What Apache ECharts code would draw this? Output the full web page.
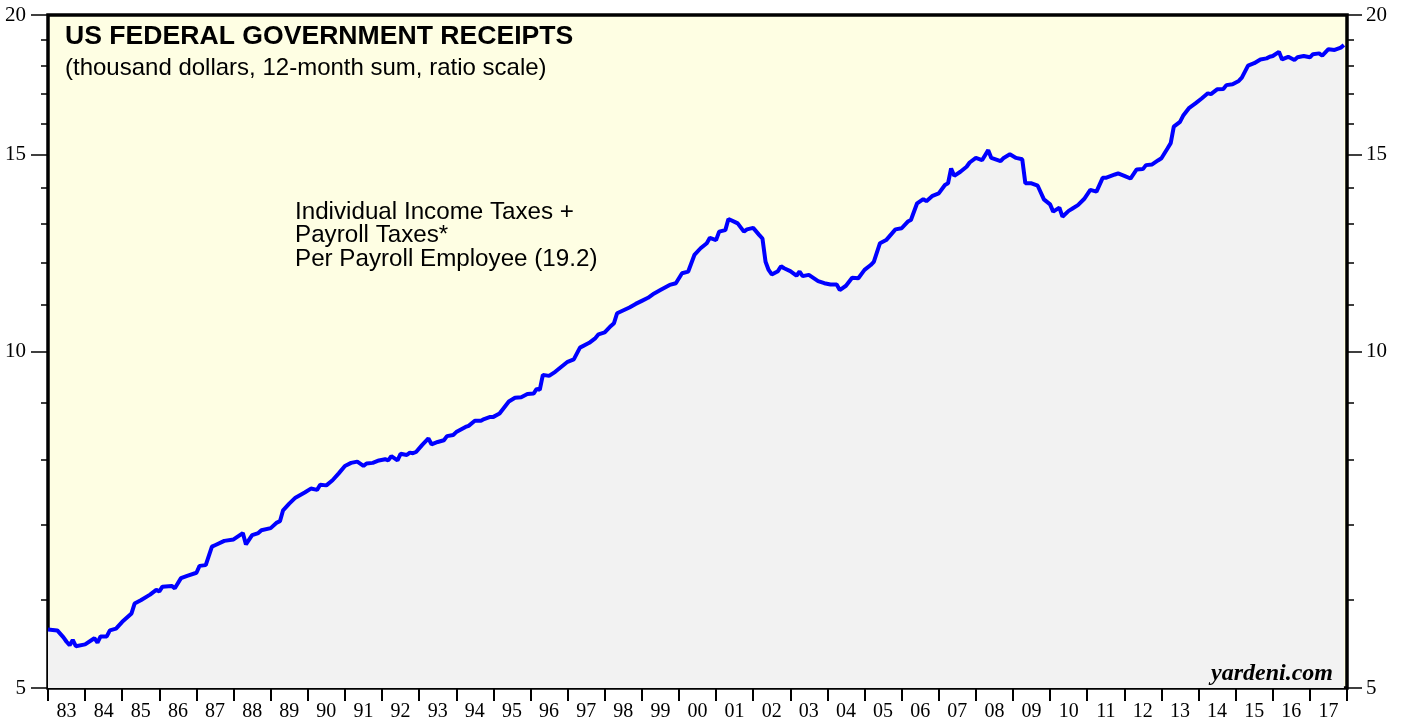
<!DOCTYPE html>
<html>
<head>
<meta charset="utf-8">
<title>US Federal Government Receipts</title>
<script src="https://cdn.jsdelivr.net/npm/echarts@6.0.0/dist/echarts.min.js"></script>
<style>
  html, body { margin: 0; padding: 0; background: #fff; }
  #chart { width: 1405px; height: 717px; }
</style>
</head>
<body>
<div id="chart"></div>
<script>
// months (irregular spacing, wherever the line bends)
const dates = [
  '1983-01', '1983-04', '1983-06', '1983-07', '1983-08', '1983-09', '1983-10', '1984-01', '1984-04', '1984-05',
  '1984-06', '1984-08', '1984-09', '1984-11', '1985-01', '1985-04', '1985-05', '1985-07', '1985-10', '1985-12',
  '1986-01', '1986-02', '1986-05', '1986-06', '1986-08', '1986-10', '1987-01', '1987-02', '1987-04', '1987-06',
  '1987-07', '1987-10', '1988-01', '1988-04', '1988-05', '1988-07', '1988-09', '1988-10', '1989-01', '1989-03',
  '1989-04', '1989-05', '1989-07', '1989-09', '1989-12', '1990-02', '1990-04', '1990-05', '1990-07', '1990-09',
  '1990-11', '1991-01', '1991-03', '1991-05', '1991-07', '1991-08', '1991-10', '1991-12', '1992-02', '1992-03',
  '1992-04', '1992-06', '1992-07', '1992-09', '1992-10', '1992-11', '1992-12', '1993-02', '1993-04', '1993-05',
  '1993-07', '1993-09', '1993-10', '1993-12', '1994-01', '1994-04', '1994-05', '1994-07', '1994-09', '1994-10',
  '1994-12', '1995-01', '1995-03', '1995-06', '1995-08', '1995-10', '1995-12', '1996-02', '1996-03', '1996-04',
  '1996-05', '1996-07', '1996-09', '1996-11', '1997-01', '1997-03', '1997-05', '1997-08', '1997-10', '1997-11',
  '1998-01', '1998-03', '1998-04', '1998-05', '1998-09', '1998-11', '1999-01', '1999-03', '1999-05', '1999-07',
  '1999-10', '1999-12', '2000-02', '2000-04', '2000-06', '2000-08', '2000-10', '2000-11', '2001-01', '2001-02',
  '2001-04', '2001-05', '2001-07', '2001-08', '2001-10', '2001-11', '2002-01', '2002-03', '2002-04', '2002-05',
  '2002-06', '2002-07', '2002-09', '2002-10', '2002-11', '2003-01', '2003-03', '2003-04', '2003-05', '2003-07',
  '2003-10', '2003-12', '2004-02', '2004-04', '2004-05', '2004-07', '2004-09', '2004-11', '2005-01', '2005-03',
  '2005-04', '2005-06', '2005-08', '2005-11', '2006-01', '2006-03', '2006-04', '2006-06', '2006-08', '2006-09',
  '2006-11', '2007-01', '2007-03', '2007-04', '2007-05', '2007-06', '2007-08', '2007-10', '2007-11', '2008-01',
  '2008-03', '2008-05', '2008-06', '2008-09', '2008-10', '2008-12', '2009-02', '2009-04', '2009-05', '2009-07',
  '2009-09', '2009-11', '2010-01', '2010-02', '2010-04', '2010-05', '2010-07', '2010-08', '2010-10', '2010-12',
  '2011-02', '2011-04', '2011-06', '2011-07', '2011-10', '2011-11', '2012-01', '2012-03', '2012-05', '2012-07',
  '2012-08', '2012-10', '2012-12', '2013-01', '2013-03', '2013-04', '2013-05', '2013-07', '2013-08', '2013-10',
  '2013-12', '2014-02', '2014-04', '2014-05', '2014-07', '2014-09', '2014-10', '2014-12', '2015-02', '2015-03',
  '2015-05', '2015-07', '2015-09', '2015-11', '2015-12', '2016-01', '2016-03', '2016-04', '2016-06', '2016-08',
  '2016-09', '2016-11', '2017-01', '2017-02', '2017-04', '2017-05', '2017-07', '2017-09', '2017-11', '2017-12'
]

// thousand dollars per payroll employee
const receipts = [
  5.64, 5.63, 5.55, 5.50, 5.46, 5.52, 5.45, 5.47, 5.54, 5.49,
  5.56, 5.56, 5.63, 5.65, 5.73, 5.83, 5.95, 5.99, 6.06, 6.12,
  6.10, 6.16, 6.17, 6.14, 6.27, 6.30, 6.34, 6.43, 6.44, 6.69,
  6.71, 6.77, 6.79, 6.88, 6.72, 6.85, 6.88, 6.92, 6.95, 7.03,
  7.05, 7.21, 7.31, 7.40, 7.48, 7.54, 7.52, 7.60, 7.59, 7.67,
  7.78, 7.90, 7.95, 7.97, 7.90, 7.94, 7.95, 7.99, 8.01, 7.99,
  8.06, 7.99, 8.10, 8.08, 8.12, 8.11, 8.13, 8.25, 8.36, 8.26,
  8.30, 8.33, 8.40, 8.42, 8.47, 8.56, 8.58, 8.67, 8.67, 8.70,
  8.74, 8.74, 8.80, 9.02, 9.09, 9.10, 9.16, 9.17, 9.26, 9.24,
  9.53, 9.51, 9.59, 9.69, 9.79, 9.84, 10.08, 10.18, 10.28, 10.36,
  10.40, 10.54, 10.60, 10.82, 10.95, 11.03, 11.10, 11.17, 11.27, 11.35,
  11.47, 11.51, 11.75, 11.79, 12.20, 12.37, 12.50, 12.64, 12.58, 12.80,
  12.84, 13.14, 13.06, 13.02, 12.80, 12.86, 12.90, 12.71, 12.62, 12.03,
  11.83, 11.72, 11.80, 11.92, 11.87, 11.80, 11.69, 11.79, 11.68, 11.71,
  11.56, 11.51, 11.48, 11.48, 11.35, 11.45, 11.64, 11.63, 11.83, 11.95,
  12.03, 12.50, 12.58, 12.86, 12.89, 13.07, 13.11, 13.57, 13.69, 13.63,
  13.78, 13.85, 14.09, 14.14, 14.58, 14.36, 14.48, 14.63, 14.76, 14.90,
  14.83, 15.14, 14.90, 14.80, 14.90, 15.01, 14.90, 14.86, 14.14, 14.14,
  14.07, 13.68, 13.54, 13.34, 13.45, 13.20, 13.36, 13.41, 13.52, 13.69,
  13.95, 13.90, 14.30, 14.30, 14.40, 14.43, 14.36, 14.28, 14.55, 14.56,
  14.68, 14.70, 14.83, 14.89, 15.20, 15.36, 15.89, 16.05, 16.25, 16.52,
  16.67, 16.84, 17.02, 16.99, 17.16, 17.17, 17.31, 17.34, 17.46, 17.58,
  18.02, 18.11, 18.25, 18.29, 18.35, 18.38, 18.54, 18.25, 18.35, 18.23,
  18.33, 18.38, 18.33, 18.45, 18.48, 18.39, 18.64, 18.61, 18.70, 18.80
]

const yearLabels = [
  '83', '84', '85', '86', '87', '88', '89', '90', '91', '92', '93', '94',
  '95', '96', '97', '98', '99', '00', '01', '02', '03', '04', '05', '06',
  '07', '08', '09', '10', '11', '12', '13', '14', '15', '16', '17'
]
const majorTicks = [5, 10, 15, 20]
const minorTicks = [6, 7, 8, 9, 11, 12, 13, 14, 16, 17, 18, 19]

const SANS = '"Liberation Sans", Arial, Helvetica, sans-serif'
const SERIF = '"Liberation Serif", "Times New Roman", serif'

// months since Jan 1983
function monthIndex(d) {
  const [y, m] = d.split('-').map(Number)
  return (y - 1983) * 12 + (m - 1)
}

const chart = echarts.init(document.getElementById('chart'), null, { renderer: 'canvas' })

// tick axes live in ln space so they line up with the log axis that carries the series
const lnMin = Math.log(majorTicks[0])
const lnMax = Math.log(majorTicks[majorTicks.length - 1])

function tickAxis(position, major) {
  return {
    type: 'value',
    position: position,
    min: lnMin,
    max: lnMax,
    axisLine: { show: false },
    splitLine: { show: false },
    axisTick: {
      show: true,
      customValues: (major ? majorTicks : minorTicks).map(Math.log),
      length: major ? (position === 'left' ? 17 : 15) : 7,
      lineStyle: { color: '#000', width: 1.5 }
    },
    axisLabel: major ? {
      show: true,
      customValues: majorTicks.map(Math.log),
      formatter: (v) => String(Math.round(Math.exp(v))),
      margin: position === 'left' ? 22 : 19,
      color: '#000',
      fontFamily: SERIF,
      fontSize: 21
    } : { show: false }
  }
}

const option = {
  animation: false,
  grid: {
    left: 48,
    right: 58,
    top: 15,
    bottom: 29,
    containLabel: false,
    outerBoundsMode: 'none',
    show: true,
    backgroundColor: '#fefee3',
    borderColor: '#000',
    borderWidth: 3.5
  },
  xAxis: [
    {
      type: 'value',
      min: 0,
      max: 420,
      show: false
    },
    {
      type: 'category',
      data: yearLabels,
      position: 'bottom',
      boundaryGap: true,
      axisLine: { show: false },
      axisTick: {
        show: true,
        interval: 0,
        length: 13,
        lineStyle: { color: '#000', width: 2 }
      },
      axisLabel: {
        interval: 0,
        margin: 14,
        color: '#000',
        fontFamily: SERIF,
        fontSize: 20
      },
      splitLine: { show: false }
    }
  ],
  yAxis: [
    {
      type: 'log',
      logBase: 10,
      min: majorTicks[0],
      max: majorTicks[majorTicks.length - 1],
      show: false
    },
    tickAxis('left', true),
    tickAxis('left', false),
    tickAxis('right', true),
    tickAxis('right', false)
  ],
  series: [{
    type: 'line',
    xAxisIndex: 0,
    yAxisIndex: 0,
    data: dates.map((d, i) => [monthIndex(d), receipts[i]]),
    showSymbol: false,
    smooth: false,
    lineStyle: { color: '#0000ff', width: 4 },
    areaStyle: { color: '#f2f2f2', opacity: 1, origin: 'start' },
    z: 3
  }],
  graphic: [
    {
      type: 'text',
      left: 65,
      top: 23,
      z: 20,
      style: {
        text: 'US FEDERAL GOVERNMENT RECEIPTS',
        font: 'bold 26.6px ' + SANS,
        fill: '#000'
      }
    },
    {
      type: 'text',
      left: 65,
      top: 56,
      z: 20,
      style: {
        text: '(thousand dollars, 12-month sum, ratio scale)',
        font: '24px ' + SANS,
        fill: '#000'
      }
    },
    {
      type: 'text',
      left: 295,
      top: 200,
      z: 20,
      style: {
        text: 'Individual Income Taxes +\nPayroll Taxes*\nPer Payroll Employee (19.2)',
        font: '24.2px ' + SANS,
        lineHeight: 23.5,
        fill: '#000'
      }
    },
    {
      type: 'text',
      right: 72,
      top: 662,
      z: 20,
      style: {
        text: 'yardeni.com',
        font: 'italic bold 24px ' + SERIF,
        fill: '#000'
      }
    }
  ]
}

chart.setOption(option)
</script>
</body>
</html>
